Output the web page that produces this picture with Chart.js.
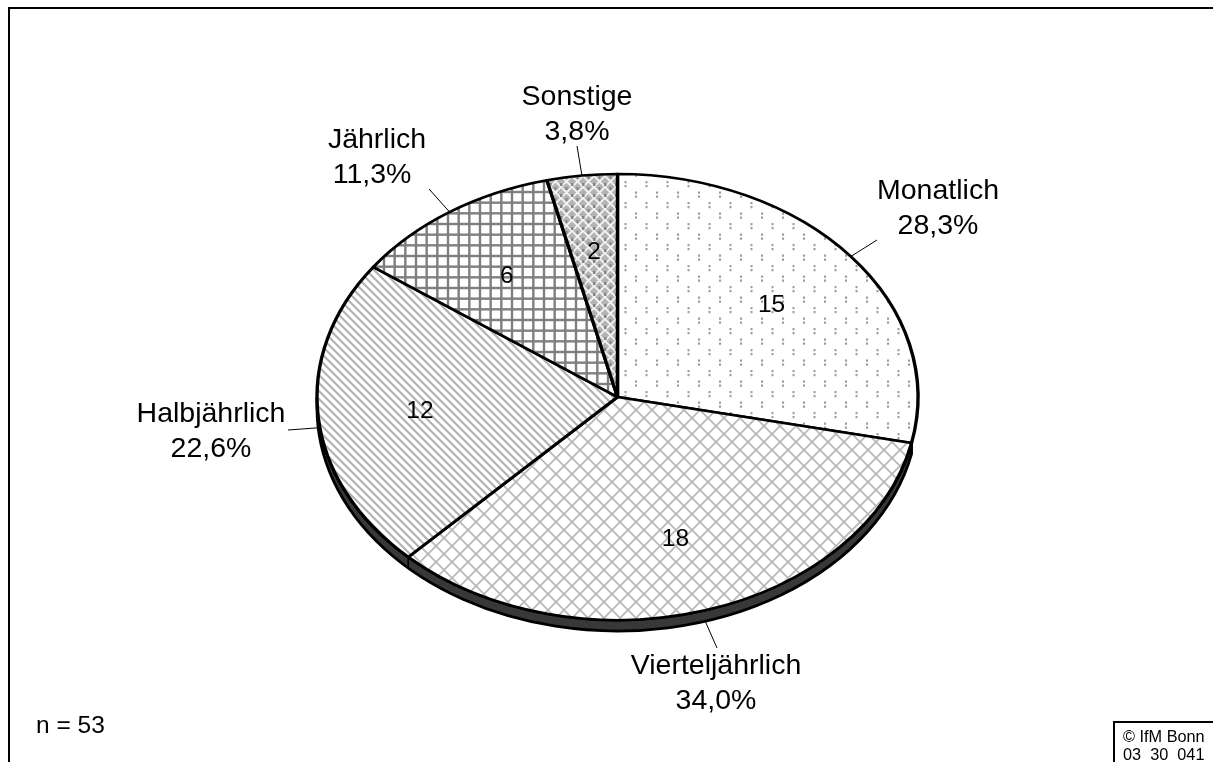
<!DOCTYPE html>
<html>
<head>
<meta charset="utf-8">
<title>Pie</title>
<script src="https://cdn.jsdelivr.net/npm/chart.js@4"></script>
<style>
  html, body { margin: 0; padding: 0; background: #fff; overflow: hidden; }
  canvas { display: block; }
</style>
</head>
<body>
<canvas id="myChart" width="1213" height="762"></canvas>
<script>
const categories = ['Monatlich', 'Vierteljährlich', 'Halbjährlich', 'Jährlich', 'Sonstige'];
const counts = [15, 18, 12, 6, 2];
const percents = ['28,3%', '34,0%', '22,6%', '11,3%', '3,8%'];

// where the outer labels sit: centre x, first baseline
const labelX = [938, 716, 211, 377, 577];
const percentX = [938, 716, 211, 372, 577];
const labelY = [199, 674, 422, 148, 105];
// outer end of the thin leader lines
const leaderX = [877, 717, 288, 429, 577];
const leaderY = [240, 648, 430, 189, 146];

// pie is a tilted circle, so squash it
const cx = 617.5, cy = 397, rx = 300.5, ry = 223, depth = 11;
const squash = ry / rx;
const FONT = '"Liberation Sans", Arial, sans-serif';

function makeTile(w, h, draw) {
  const c = document.createElement('canvas');
  c.width = w;
  c.height = h;
  const g = c.getContext('2d');
  g.fillStyle = '#fff';
  g.fillRect(0, 0, w, h);
  g.filter = 'blur(0.5px)';
  draw(g);
  const p = g.createPattern(c, 'repeat');
  // undo the squash, patterns stay square on screen
  p.setTransform(new DOMMatrix().translate(cx, cy).scale(1, 1 / squash).translate(-cx, -cy));
  return p;
}

function diag(g, x1, y1, x2, y2) {
  g.beginPath();
  g.moveTo(x1, y1);
  g.lineTo(x2, y2);
  g.stroke();
}

const dotted = makeTile(21, 21, g => {
  g.fillStyle = '#999';
  [[15.5, 13], [15.5, 17], [5, 2.5], [5, 6.5]].forEach(d => g.fillRect(d[0], d[1], 2, 2.2));
});
const lattice = makeTile(16, 16, g => {
  g.translate(4, 2);
  g.strokeStyle = '#b8b8b8';
  g.lineWidth = 1.7;
  for (let k = -32; k <= 32; k += 16) {
    diag(g, -24, -24 + k, 24, 24 + k);
    diag(g, -24, 24 + k, 24, -24 + k);
  }
});
const stripes = makeTile(8, 8, g => {
  g.strokeStyle = '#b2b2b2';
  g.lineWidth = 2.2;
  for (let k = -16; k <= 16; k += 8) {
    diag(g, -12, -12 + k, 20, 20 + k);
  }
});
const grid = makeTile(32, 32, g => {
  g.fillStyle = '#7e7e7e';
  [-1.2, 9.47, 20.13, 30.8].forEach(p => {
    g.fillRect(p, -4, 2.4, 40);
    g.fillRect(-4, p, 40, 2.4);
  });
});
const dense = makeTile(11, 11, g => {
  g.fillStyle = '#b4b4b4';
  g.fillRect(-4, -4, 19, 19);
  g.strokeStyle = '#f4f4f4';
  g.lineWidth = 1.7;
  for (let k = -22; k <= 22; k += 11) {
    diag(g, -11, -11 + k, 22, 22 + k);
    diag(g, -11, 22 + k, 22, -11 + k);
  }
  g.fillStyle = '#858585';
  g.fillRect(4.5, -1, 2, 4);
  g.fillRect(-1, 7, 2.5, 3);
  g.fillRect(10, 7, 2.5, 3);
});

const pieFrame = {
  id: 'pieFrame',
  beforeDatasetsDraw(chart) {
    const ctx = chart.ctx;
    const arcs = chart.getDatasetMeta(0).data;
    const t1 = arcs[0].endAngle;

    // side of the pie, starts where the first slice ends
    ctx.save();
    ctx.beginPath();
    ctx.ellipse(cx, cy + depth, rx, ry, 0, t1, Math.PI);
    ctx.lineTo(cx - rx, cy);
    ctx.ellipse(cx, cy, rx, ry, 0, Math.PI, t1, true);
    ctx.closePath();
    ctx.fillStyle = '#383838';
    ctx.fill();
    ctx.strokeStyle = '#000';
    ctx.lineWidth = 2.8;
    ctx.stroke();
    // seam at the slice edges on the front
    ctx.lineWidth = 1.5;
    arcs.forEach(a => {
      const x = cx + rx * Math.cos(a.endAngle), y = cy + ry * Math.sin(a.endAngle);
      if (Math.sin(a.endAngle) > 0) diag(ctx, x, y, x, y + depth);
    });
    ctx.restore();

    ctx.save();
    ctx.translate(cx, cy);
    ctx.scale(1, squash);
    ctx.translate(-cx, -cy);
  },
  afterDatasetsDraw(chart) {
    chart.ctx.restore();
  },
  afterDraw(chart) {
    const ctx = chart.ctx;
    const arcs = chart.getDatasetMeta(0).data;
    ctx.save();

    // leaders, front slices start below the side
    ctx.strokeStyle = '#000';
    ctx.lineWidth = 1;
    arcs.forEach((a, i) => {
      const mid = (a.startAngle + a.endAngle) / 2;
      const sy = Math.sin(mid) > 0 ? depth : 0;
      diag(ctx, cx + rx * Math.cos(mid), cy + sy + ry * Math.sin(mid), leaderX[i], leaderY[i]);
    });

    ctx.fillStyle = '#000';
    ctx.textBaseline = 'alphabetic';
    ctx.textAlign = 'center';

    // counts inside the slices
    ctx.font = '24.5px ' + FONT;
    arcs.forEach((a, i) => {
      const mid = (a.startAngle + a.endAngle) / 2;
      ctx.fillText(String(counts[i]), cx + 0.66 * rx * Math.cos(mid), cy + 8 + 0.66 * ry * Math.sin(mid));
    });

    // category + percent
    ctx.font = '28.5px ' + FONT;
    categories.forEach((name, i) => {
      ctx.fillText(name, labelX[i], labelY[i]);
      ctx.fillText(percents[i], percentX[i], labelY[i] + 34.5);
    });

    // frame, open at right and bottom
    ctx.lineWidth = 2;
    ctx.beginPath();
    ctx.moveTo(9, 762);
    ctx.lineTo(9, 8);
    ctx.lineTo(1213, 8);
    ctx.stroke();
    // source box
    ctx.beginPath();
    ctx.moveTo(1114, 762);
    ctx.lineTo(1114, 722);
    ctx.lineTo(1213, 722);
    ctx.stroke();

    ctx.textAlign = 'left';
    ctx.font = '24.5px ' + FONT;
    ctx.fillText('n = 53', 36, 733);
    ctx.font = '16.3px ' + FONT;
    ctx.fillText('© IfM Bonn', 1123, 742);
    ctx.fillText('03  30  041', 1123, 760);
    ctx.restore();
  }
};

const ctx = document.getElementById('myChart');

new Chart(ctx, {
  type: 'pie',
  data: {
    labels: categories,
    datasets: [{
      data: counts,
      backgroundColor: [dotted, lattice, stripes, grid, dense],
      borderColor: '#000',
      borderWidth: 3.4,
      borderJoinStyle: 'round'
    }]
  },
  options: {
    responsive: false,
    animation: false,
    radius: rx,
    layout: { padding: { left: 22, top: 32 } },
    plugins: {
      legend: { display: false },
      tooltip: { enabled: false }
    }
  },
  plugins: [pieFrame]
});
</script>
</body>
</html>
